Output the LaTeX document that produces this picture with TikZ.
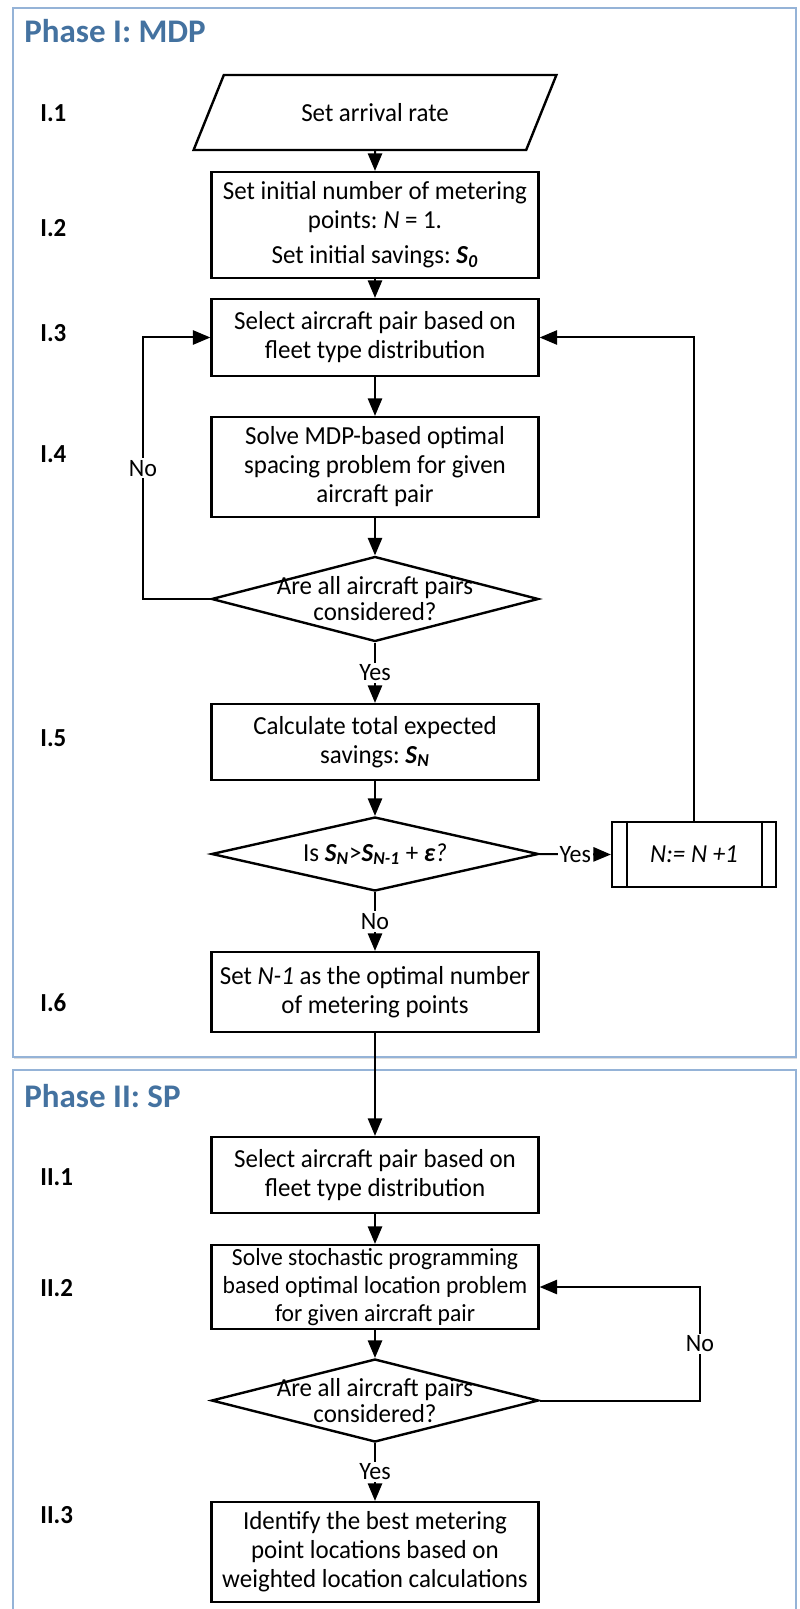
\documentclass[tikz,border=0pt]{standalone}
\usepackage{fontspec}
\setmainfont{Carlito}
\newfontfamily\boxfont{Carlito}[FakeStretch=0.96]
\usetikzlibrary{positioning,arrows,shapes.geometric,shadows}

\definecolor{framecol}{RGB}{149,179,215}
\definecolor{titlecol}{RGB}{68,114,160}

% bold italic S with subscript
\newcommand{\Sv}[1]{\textbf{\textit{S}}\textsubscript{\textbf{\textit{#1}}}}

\tikzset{
  phaseframe/.style={draw=framecol, line width=0.8pt, fill=white,
    drop shadow={shadow xshift=0.6pt, shadow yshift=-1.2pt, opacity=0.25}},
  phasetitle/.style={anchor=base west, inner sep=0pt, text=titlecol,
    font=\fontsize{16.5}{18}\selectfont\bfseries},
  steplabel/.style={anchor=west, inner sep=0pt, font=\boxfont\fontsize{13}{14}\selectfont\bfseries},
  stepbox/.style={draw, line width=1.2pt, minimum width=163.5pt, align=center,
    inner xsep=1pt, inner ysep=1pt, font=\boxfont\fontsize{13}{14.5}\selectfont},
  inputbox/.style={trapezium, trapezium left angle=63, trapezium right angle=117,
    trapezium stretches=true, draw, line width=1.2pt, minimum width=182.5pt,
    minimum height=37.5pt, font=\boxfont\fontsize{13}{14.5}\selectfont},
  decision/.style={diamond, draw, line width=1.2pt, minimum width=163.5pt, inner sep=0pt},
  decisiontext/.style={align=center, inner sep=0pt, font=\boxfont\fontsize{13}{13}\selectfont},
  procbox/.style={draw, line width=1.2pt, minimum width=82pt, minimum height=32.5pt,
    font=\boxfont\fontsize{13}{14.5}\selectfont},
  flow/.style={draw, line width=1pt, -triangle 45},
  plainline/.style={draw, line width=1.2pt},
  answer/.style={fill=white, inner sep=1pt, font=\boxfont\fontsize{12.5}{13}\selectfont},
}

\begin{document}
\frenchspacing
\begin{tikzpicture}[x=0.5pt,y=-0.5pt]
  \useasboundingbox (0,0) rectangle (799,1609);
  \fill[white] (0,0) rectangle (799,1609);

  % phase frames
  \draw[phaseframe] (13,8) rectangle (796,1057);
  \draw[phaseframe] (13,1070) rectangle (796,1650);
  \node[phasetitle] (ph1title) at (24,43) {Phase I: MDP};
  \node[phasetitle] (ph2title) at (24,1107) {Phase II: SP};

  % step labels
  \node[steplabel] (lab11) at (40,113) {I.1};
  \node[steplabel] (lab12) at (40,228) {I.2};
  \node[steplabel] (lab13) at (40,333) {I.3};
  \node[steplabel] (lab14) at (40,454) {I.4};
  \node[steplabel] (lab15) at (40,738) {I.5};
  \node[steplabel] (lab16) at (40,1003) {I.6};
  \node[steplabel] (lab21) at (40,1177) {II.1};
  \node[steplabel] (lab22) at (40,1288) {II.2};
  \node[steplabel] (lab23) at (40,1515) {II.3};

  % phase I
  \node[inputbox] (arrival) at (375,112.5) {Set arrival rate};
  \node[stepbox, minimum height=53pt] (init) at (375,225)
    {Set initial number of metering\\points: \textit{N} = 1.\\[3pt]Set initial savings: \Sv{0}};
  \node[stepbox, minimum height=38.5pt] (select1) at (375,337.5)
    {Select aircraft pair based on\\fleet type distribution};
  \node[stepbox, minimum height=50pt] (solve1) at (375,467)
    {Solve MDP-based optimal\\spacing problem for given\\aircraft pair};
  \node[decision, minimum height=42.5pt] (allpairs1) at (375,599) {};
  \node[decisiontext] (allpairs1txt) at (allpairs1) {Are all aircraft pairs\\considered?};
  \node[stepbox, minimum height=38pt] (total) at (375,742)
    {Calculate total expected\\savings: \Sv{N}};
  \node[decision, minimum height=37pt] (gain) at (375,854) {};
  \node[decisiontext] (gaintxt) at (gain) {Is \Sv{N}>\Sv{N-1} + \textit{\textbf{ε}?}};
  \node[procbox] (incr) at (694,854.5) {\textit{N:= N +1}};
  \draw[plainline] ([xshift=8pt]incr.north west) -- ([xshift=8pt]incr.south west);
  \draw[plainline] ([xshift=-7.5pt]incr.north east) -- ([xshift=-7.5pt]incr.south east);
  \node[stepbox, minimum height=40pt] (optn) at (375,992)
    {Set \textit{N-1} as the optimal number\\of metering points};

  % phase II
  \node[stepbox, minimum height=38pt] (select2) at (375,1175)
    {Select aircraft pair based on\\fleet type distribution};
  \node[stepbox, minimum height=42pt, font=\boxfont\fontsize{12.3}{14}\selectfont] (solve2) at (375,1287)
    {Solve stochastic programming\\based optimal location problem\\for given aircraft pair};
  \node[decision, minimum height=41.5pt] (allpairs2) at (375,1400.5) {};
  \node[decisiontext] (allpairs2txt) at (allpairs2) {Are all aircraft pairs\\considered?};
  \node[stepbox, minimum height=50pt] (best) at (375,1552)
    {Identify the best metering\\point locations based on\\weighted location calculations};

  % connectors
  \draw[flow] (arrival) -- (init);
  \draw[flow] (init) -- (select1);
  \draw[flow] (select1) -- (solve1);
  \draw[flow] (solve1) -- (allpairs1.north);
  \coordinate (noleft) at (143,599);
  \draw[flow] (allpairs1.west) -- (noleft) |- node[answer, pos=0.25] (no1) {No} (select1.west);
  \draw[flow] (allpairs1.south) -- node[answer] (yes1) {Yes} (total);
  \draw[flow] (total) -- (gain.north);
  \draw[flow] (gain.east) -- node[answer] (yes2) {Yes} (incr.west);
  \draw[flow] (incr.north) |- (select1.east);
  \draw[flow] (gain.south) -- node[answer] (no2) {No} (optn);
  \draw[flow] (optn) -- (select2);
  \draw[flow] (select2) -- (solve2);
  \draw[flow] (solve2) -- (allpairs2.north);
  \coordinate (noright) at (700,1400.5);
  \draw[flow] (allpairs2.east) -- (noright) |- node[answer, pos=0.25] (no3) {No} (solve2.east);
  \draw[flow] (allpairs2.south) -- node[answer] (yes3) {Yes} (best);
\end{tikzpicture}
\end{document}
